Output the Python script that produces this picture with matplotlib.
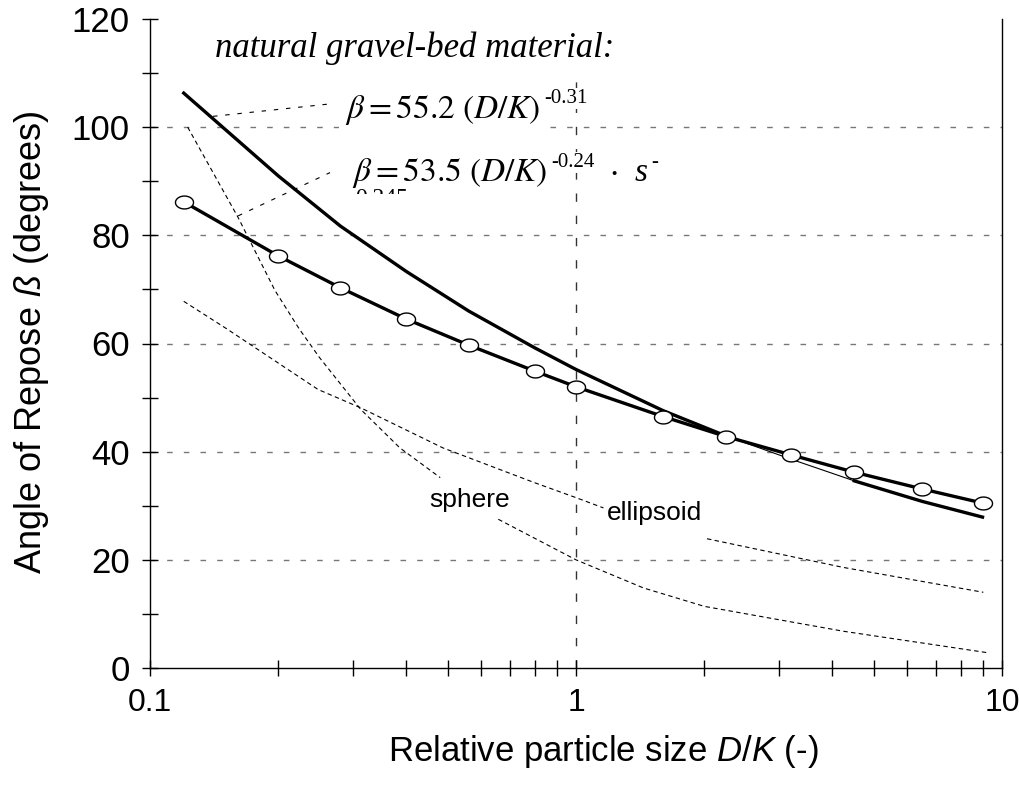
import matplotlib
matplotlib.use("Agg")
import matplotlib.pyplot as plt
import numpy as np
from matplotlib.path import Path
from matplotlib.transforms import Bbox

plt.rcParams['font.family'] = ['Liberation Sans', 'DejaVu Sans']
plt.rcParams['mathtext.fontset'] = 'custom'
plt.rcParams['mathtext.it'] = 'Liberation Sans:italic'
plt.rcParams['mathtext.rm'] = 'Liberation Sans'

# valores
dk = [0.12, 0.2, 0.28, 0.4, 0.56, 0.8, 1.0, 1.6, 2.25, 3.2, 4.5, 6.5, 9.0]
beta_meas = [86.2, 76.2, 70.3, 64.5, 59.7, 54.9, 52.0, 46.5, 42.8, 39.4, 36.2, 33.1, 30.5]
beta_fit = [106.3, 91.0, 81.7, 73.3, 66.0, 59.2, 55.2, 47.6, 42.9, 38.6, 34.6, 30.8, 27.9]

# esfera (parte alta y parte baja, cortada por la etiqueta)
sph_x1 = [0.1226, 0.161, 0.1965, 0.224, 0.25, 0.3125, 0.386, 0.48]
sph_y1 = [100.0, 83.3, 69.8, 62.7, 57.4, 47.8, 40.7, 35.2]
sph_x2 = [0.657, 1.0, 1.44, 2.0, 4.24, 9.3]
sph_y2 = [27.5, 20.0, 14.8, 11.4, 6.8, 2.8]

# elipsoide
ell_x1 = [0.12, 0.1515, 0.248, 0.3125, 0.487, 0.797, 1.0, 1.16]
ell_y1 = [67.8, 62.7, 51.5, 48.1, 40.7, 34.3, 31.5, 29.6]
ell_x2 = [2.03, 4.24, 9.04]
ell_y2 = [23.9, 18.6, 14.0]

# lineas guia de las ecuaciones
lead1_x = [0.1406, 0.2646]
lead1_y = [102.0, 104.3]
lead2_x = [0.161, 0.2646]
lead2_y = [83.6, 91.6]

W, H = 1019, 796
def px(x, y):
    # pixel (desde arriba a la izquierda) -> fraccion de figura
    return x / W, (H - y) / H

fig = plt.figure(figsize=(W/100, H/100), dpi=100)
ax = fig.add_axes([150/W, 128/H, 852/W, 649/H])

ax.set_xscale('log')
ax.set_xlim(0.1, 10)
ax.set_ylim(0, 120)

# rejilla
for yv in [20, 40, 60, 80, 100]:
    ax.axhline(yv, color='#777777', lw=1.0, dashes=(4, 8), zorder=1)
ax.vlines(1.0, 0, 112, color='#333333', lw=1.0, linestyles=(0, (6, 10)), zorder=1)

# curvas discontinuas
kw = dict(color='k', lw=0.8, dashes=(4, 3), zorder=2)
ax.plot(sph_x1, sph_y1, **kw)
ax.plot(sph_x2, sph_y2, **kw)
ax.plot(ell_x1, ell_y1, **kw)
ax.plot(ell_x2, ell_y2, **kw)
ax.plot(lead1_x, lead1_y, color='k', lw=0.8, dashes=(4, 7), zorder=2)
ax.plot(lead2_x, lead2_y, color='k', lw=0.8, dashes=(4, 7), zorder=2)

# curva ajustada (gruesa, con un tramo delgado)
ax.plot(dk[:9], beta_fit[:9], color='k', lw=2.4, zorder=3)
ax.plot(dk[8:11], beta_fit[8:11], color='k', lw=0.8, zorder=3)
ax.plot(dk[10:], beta_fit[10:], color='k', lw=2.4, zorder=3)

# marcador eliptico
t = np.linspace(0, 2*np.pi, 60)
ell = Path(np.column_stack([1.4*np.cos(t), np.sin(t)]), closed=True)
ax.plot(dk, beta_meas, color='k', lw=2.4, marker=ell, markersize=13,
        markerfacecolor='white', markeredgecolor='k', markeredgewidth=1.0, zorder=4)

# ejes
ax.spines['top'].set_visible(False)
for s in ['left', 'bottom', 'right']:
    ax.spines[s].set_linewidth(1.0)
ax.set_yticks([0, 20, 40, 60, 80, 100, 120])
ax.set_yticks([10, 30, 50, 70, 90, 110], minor=True)
ax.set_xticks([0.1, 1, 10])
ax.set_xticklabels(['0.1', '1', '10'])
ax.set_xticks([k*d for d in (0.1, 1) for k in range(2, 10)], minor=True)
ax.xaxis.set_minor_formatter(matplotlib.ticker.NullFormatter())
ax.tick_params(which='both', direction='inout', length=11, width=1.0,
               right=False, top=False)
ax.tick_params(axis='y', labelsize=25, pad=9)
ax.tick_params(axis='x', labelsize=23, pad=9)

ax.set_ylabel(r'Angle of Repose $\mathit{ß}$ (degrees)', fontsize=26)
ax.set_xlabel(r'Relative particle size $\mathit{D/K}$ (-)', fontsize=25)
ax.yaxis.set_label_coords((32 - 150) / 852, (668 - 342) / 649)
ax.xaxis.set_label_coords((603 - 150) / 852, (668 - 752) / 649)
ax.xaxis.label.set_va('center')
ax.yaxis.label.set_va('center')

# textos
wb = dict(facecolor='white', edgecolor='none', pad=1)
serif = 'Liberation Serif'
fig.text(*px(415, 48), 'natural gravel-bed material:', family=serif, style='italic',
         fontsize=25, ha='center', va='center', bbox=dict(facecolor='white', edgecolor='none', pad=6),
         zorder=5)

fig.text(*px(345, 118), r'$\beta = 55.2\ (D/K)$', fontsize=24, math_fontfamily='stix',
         ha='left', va='baseline', bbox=dict(facecolor='white', edgecolor='none', pad=4), zorder=5)
fig.text(*px(544, 103), '-0.31', family=serif, fontsize=15, ha='left', va='baseline',
         bbox=wb, zorder=6)

fig.text(*px(352, 181), r'$\beta = 53.5\ (D/K)$', fontsize=24, math_fontfamily='stix',
         ha='left', va='baseline', bbox=dict(facecolor='white', edgecolor='none', pad=3), zorder=5)
fig.text(*px(551, 167), '-0.24', family=serif, fontsize=15, ha='left', va='baseline',
         bbox=wb, zorder=6)
fig.text(*px(614, 176), '·', family=serif, fontsize=24, ha='center', va='center', zorder=5)
fig.text(*px(635, 181), 's', family=serif, style='italic', fontsize=24, ha='left',
         va='baseline', zorder=5)
fig.text(*px(651, 167), '-', family=serif, fontsize=15, ha='left', va='baseline', zorder=5)

# fragmento cortado "0.245"
frag = fig.text(*px(355, 188), '0.245', family=serif, fontsize=17,
                ha='left', va='top', zorder=6)
frag.set_clip_box(Bbox([[340, H-194], [420, H-188]]))
frag.set_clip_on(True)

ax.text(0.564, 31.1, 'sphere', fontsize=19, ha='center', va='center', zorder=5)
ax.text(1.53, 28.7, 'ellipsoid', fontsize=19, ha='center', va='center', zorder=5)

fig.savefig('out.png', dpi=100)
